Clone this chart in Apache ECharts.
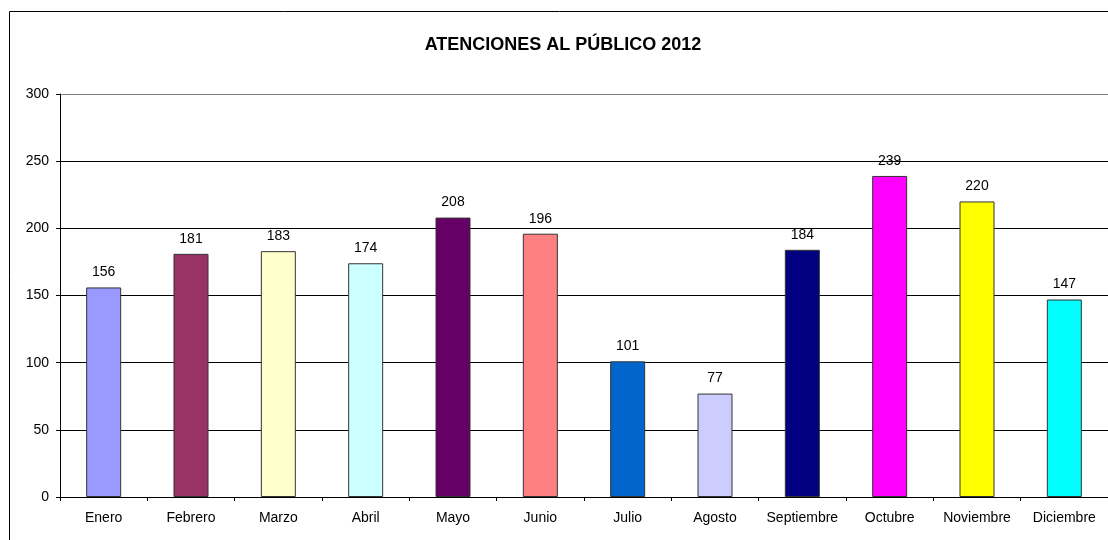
<!DOCTYPE html>
<html>
<head>
<meta charset="utf-8">
<script src="https://cdn.jsdelivr.net/npm/echarts@6/dist/echarts.min.js"></script>
<style>html,body{margin:0;padding:0;background:#fff;}#c{width:1108px;height:540px;}</style>
</head>
<body>
<div id="c"></div>
<script>
const titleText = 'ATENCIONES AL PÚBLICO 2012';
const months = ['Enero','Febrero','Marzo','Abril','Mayo','Junio','Julio','Agosto','Septiembre','Octubre','Noviembre','Diciembre'];
const values = [156,181,183,174,208,196,101,77,184,239,220,147];
const barColors = ['#9999FF','#993366','#FFFFCC','#CCFFFF','#660066','#FF8080','#0066CC','#CCCCFF','#000080','#FF00FF','#FFFF00','#00FFFF'];
const yTicks = [0,50,100,150,200,250,300];

const chart = echarts.init(document.getElementById('c'));
const font = '"Liberation Sans", Arial, sans-serif';
chart.setOption({
  animation: false,
  backgroundColor: '#fff',
  textStyle: {fontFamily: font},
  graphic: [
    {type:'rect', shape:{x:9.5,y:11.5,width:1120,height:560}, style:{fill:'none',stroke:'#000',lineWidth:1}, z:-1},
    {type:'text', x:563, y:45, style:{text:titleText, font:'bold 18px ' + font, fill:'#000', align:'center', verticalAlign:'middle'}}
  ],
  grid: {left:60, top:94, width:1051, height:403, containLabel:false},
  xAxis: {
    type:'category', data: months,
    axisLine:{lineStyle:{color:'#000',width:1}},
    axisTick:{show:true, length:4, alignWithLabel:false, lineStyle:{color:'#000'}},
    axisLabel:{color:'#000', fontSize:14, margin:14, fontFamily:font, interval:0}
  },
  yAxis: {
    type:'value', min:yTicks[0], max:yTicks[yTicks.length-1], interval:50,
    axisLine:{show:true, lineStyle:{color:'#000',width:1}},
    axisTick:{show:true, length:4, lineStyle:{color:'#000'}},
    axisLabel:{color:'#000', fontSize:14, margin:11, fontFamily:font},
    splitLine:{show:true, lineStyle:{color:['#000','#000','#000','#000','#000','#000','#808080'], width:1}}
  },
  series: [{
    type:'bar',
    data: values.map((v,i)=>({value:v, itemStyle:{color:barColors[i]}})),
    barWidth:35,
    itemStyle:{borderColor:'#333',borderWidth:1},
    label:{show:true, position:'top', distance:8, color:'#000', fontSize:14, fontFamily:font}
  }]
});
</script>
</body>
</html>
